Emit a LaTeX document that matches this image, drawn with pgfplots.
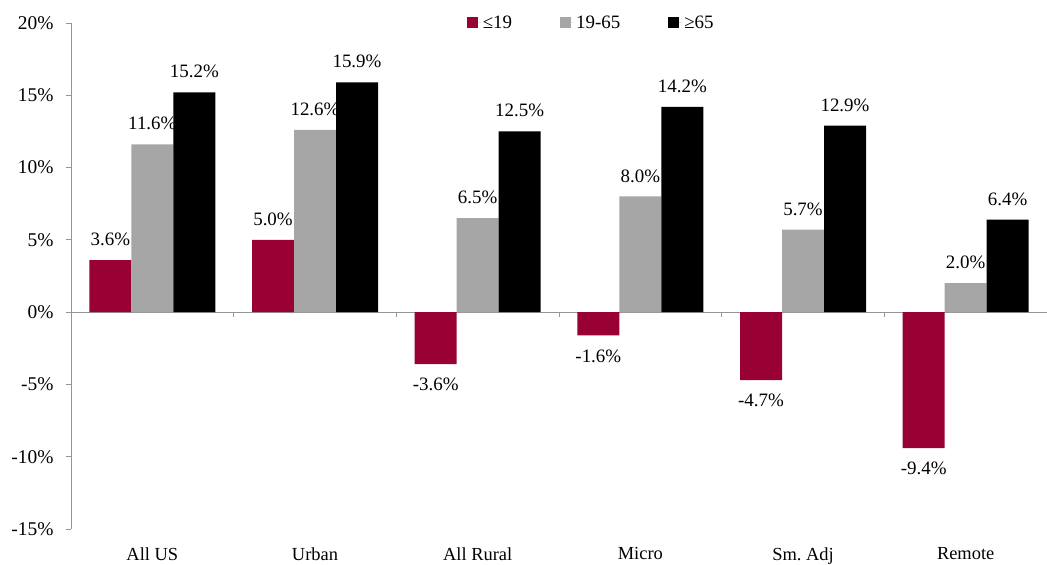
\documentclass[border=0pt]{standalone}
\usepackage{fontspec}
\setmainfont{Liberation Serif}
\usepackage{pgfplots}
\pgfplotsset{compat=1.18}
\usetikzlibrary{calc}
\definecolor{cred}{RGB}{153,0,51}
\definecolor{cgray}{RGB}{166,166,166}
\definecolor{axgray}{RGB}{150,150,150}
\frenchspacing
\begin{document}
\begin{tikzpicture}
\begin{axis}[
  scale only axis,
  width=976bp, height=506bp,
  xmin=-0.5, xmax=5.5,
  ymin=-15, ymax=20,
  ytick={-15,-10,-5,0,5,10,15,20},
  yticklabel={\pgfmathprintnumber{\tick}\%},
  /pgf/number format/assume math mode=true,
  xtick={0,1,2,3,4,5},
  xticklabels={All US,Urban,All Rural,Micro,{Sm.\ Adj},Remote},
  axis y line*=left,
  axis x line*=bottom,
  x axis line style={draw=none},
  xtick style={draw=none},
  y axis line style={axgray, line width=0.8bp},
  ytick style={axgray, line width=0.8bp},
  tick align=outside,
  major tick length=5bp,
  yticklabel style={font=\fontsize{19.5}{22}\selectfont, xshift=-9bp},
  xticklabel style={font=\fontsize{18.5}{22}\selectfont, yshift=-10bp},
  ybar=0pt,
  bar width=42bp,
  nodes near coords={\pgfmathprintnumber[fixed,fixed zerofill,precision=1]{\pgfplotspointmeta}\%},
  every node near coord/.append style={font=\fontsize{19}{22}\selectfont, inner xsep=2bp, inner ysep=14bp},
  legend style={at={(0.533,1.0)}, anchor=center, draw=none, fill=none,
    legend columns=3, font=\fontsize{19}{22}\selectfont,
    /tikz/every even column/.append style={column sep=46bp}},
  legend image code/.code={\fill[#1] (0bp,-5.5bp) rectangle (11bp,5.5bp); \path (0bp,0bp) -- (14bp,0bp);},
  clip=false,
]
\draw[axgray, line width=0.8bp] (axis cs:-0.5,0) -- (axis cs:5.5,0);
\pgfplotsinvokeforeach{0.5,1.5,2.5,3.5,4.5}{
  \draw[axgray, line width=0.8bp] (axis cs:#1,0) -- ([yshift=-5bp]axis cs:#1,0);
}
\addplot[fill=cred, draw=none] coordinates {(0,3.6) (1,5.0) (2,-3.6) (3,-1.6) (4,-4.7) (5,-9.4)};
\addplot[fill=cgray, draw=none] coordinates {(0,11.6) (1,12.6) (2,6.5) (3,8.0) (4,5.7) (5,2.0)};
\addplot[fill=black, draw=none] coordinates {(0,15.2) (1,15.9) (2,12.5) (3,14.2) (4,12.9) (5,6.4)};
\legend{≤19, 19-65, ≥65}
\coordinate (sw) at (rel axis cs:0,0);
\end{axis}
\pgfresetboundingbox
\useasboundingbox ($(sw)+(-71bp,-36bp)$) rectangle ($(sw)+(976bp,529bp)$);
\end{tikzpicture}
\end{document}
